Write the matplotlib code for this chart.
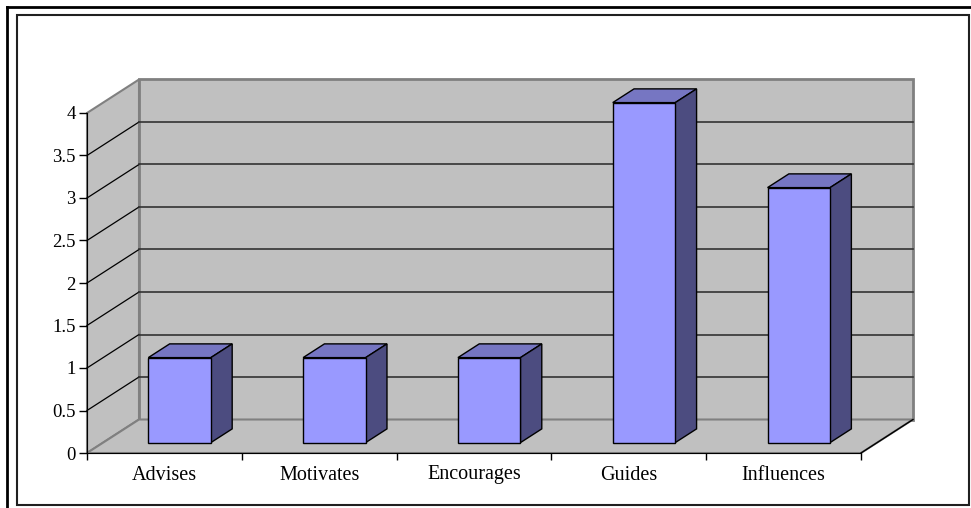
import matplotlib
matplotlib.use("Agg")
import matplotlib.pyplot as plt
from matplotlib.patches import Polygon, Rectangle

categories = ["Advises", "Motivates", "Encourages", "Guides", "Influences"]
values = [1, 1, 1, 4, 3]
yticks = [0, 0.5, 1, 1.5, 2, 2.5, 3, 3.5, 4]
ytick_labels = ["0", "0.5", "1", "1.5", "2", "2.5", "3", "3.5", "4"]

# depth of the fake 3d box, in data units
DX = 52 / 154.8
DY = 33.5 / 85
D1, D2 = 0.31, 0.72   # bar front / back as fraction of depth
BW = 0.4

WALL = "#c0c0c0"
EDGE = "#808080"
FRONT = "#9999ff"
TOP = "#7676c2"
SIDE = "#4c4c80"

plt.rcParams["font.family"] = ["Liberation Serif", "DejaVu Serif"]

fig = plt.figure(figsize=(9.71, 5.08), dpi=100)

# frame lines around the chart area
fig.add_artist(Rectangle((17 / 971, 3 / 508), 952 / 971, 490 / 508, transform=fig.transFigure,
                         fill=False, edgecolor="#202020", linewidth=1.5))
fig.add_artist(plt.Line2D([7 / 971, 7 / 971], [0, 501 / 508], transform=fig.transFigure,
                          color="black", linewidth=2))
fig.add_artist(plt.Line2D([7 / 971, 1], [501 / 508, 501 / 508], transform=fig.transFigure,
                          color="black", linewidth=2))

ax = fig.add_axes([87 / 971, 55 / 508, 774 / 971, 340 / 508])
ax.set_xlim(0, len(categories))
ax.set_ylim(0, 4)
ax.patch.set_visible(False)
top = yticks[-1]
n = len(categories)

# walls and floor
side_wall = Polygon([(0, 0), (DX, DY), (DX, top + DY), (0, top)], closed=True,
                    facecolor=WALL, edgecolor=EDGE, linewidth=1.5, clip_on=False, zorder=0)
back_wall = Polygon([(DX, DY), (n + DX, DY), (n + DX, top + DY), (DX, top + DY)], closed=True,
                    facecolor=WALL, edgecolor=EDGE, linewidth=2, clip_on=False, zorder=0)
floor = Polygon([(0, 0), (n, 0), (n + DX, DY), (DX, DY)], closed=True,
                facecolor=WALL, edgecolor=EDGE, linewidth=1.5, clip_on=False, zorder=0)
for p in (side_wall, back_wall, floor):
    ax.add_patch(p)
ax.plot([n, n + DX], [0, DY], color="black", linewidth=1, clip_on=False, zorder=1)

# gridlines
for v in yticks[1:-1]:
    ax.plot([0, DX], [v, v + DY], color="black", linewidth=0.9, clip_on=False, zorder=1)
    ax.plot([DX, n + DX], [v + DY, v + DY], color="#333333", linewidth=1.2, clip_on=False, zorder=1)

# bars
for i, val in enumerate(values):
    xl = i + 0.5 - BW / 2 - 0.008
    xr = i + 0.5 + BW / 2 - 0.004
    a1, b1 = D1 * DX, D1 * DY
    a2, b2 = D2 * DX, D2 * DY
    ax.add_patch(Polygon([(xl + a1, val + b1), (xr + a1, val + b1), (xr + a2, val + b2), (xl + a2, val + b2)],
                         closed=True, facecolor=TOP, edgecolor="black", linewidth=1, clip_on=False, zorder=3))
    ax.add_patch(Polygon([(xr + a1, b1), (xr + a2, b2), (xr + a2, val + b2), (xr + a1, val + b1)],
                         closed=True, facecolor=SIDE, edgecolor="black", linewidth=1, clip_on=False, zorder=3))
    ax.add_patch(Polygon([(xl + a1, b1), (xr + a1, b1), (xr + a1, val + b1), (xl + a1, val + b1)],
                         closed=True, facecolor=FRONT, edgecolor="black", linewidth=1, clip_on=False, zorder=4))

for s in ("top", "right"):
    ax.spines[s].set_visible(False)
ax.spines["left"].set_color("black")
ax.spines["bottom"].set_color("black")
ax.spines["left"].set_zorder(2)
ax.spines["bottom"].set_zorder(2)

ax.set_yticks(yticks)
ax.set_yticklabels(ytick_labels)
ax.set_xticks(range(n + 1))
ax.set_xticklabels([])
ax.set_xticks([i + 0.5 for i in range(n)], minor=True)
ax.set_xticklabels(categories, minor=True)
ax.tick_params(axis="y", length=6, width=1, pad=2, labelsize=13.5)
ax.tick_params(axis="x", which="major", length=5, width=1)
ax.tick_params(axis="x", which="minor", length=0, pad=9, labelsize=14.5)

fig.savefig("out.png", dpi=100)
